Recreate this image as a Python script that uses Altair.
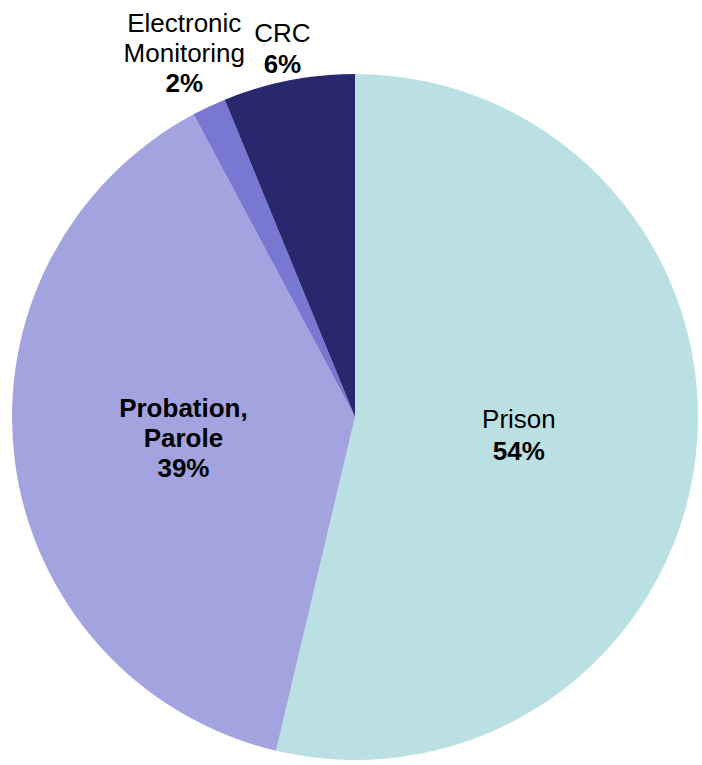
import altair as alt
import pandas as pd

categories = ["Prison", "Probation, Parole", "Electronic Monitoring", "CRC"]
values = [53.7, 38.5, 1.6, 6.2]
colors = ["#BBE0E3", "#A3A3DF", "#7878D2", "#28286F"]
label_lines = [["Prison"], ["Probation,", "Parole"], ["Electronic", "Monitoring"], ["CRC"]]
names_bold = [False, True, False, False]

df = pd.DataFrame({
    "category": categories,
    "value": values,
    "idx": list(range(len(categories))),
})

base = alt.Chart(df).transform_calculate(pct="datum.value / 100")

theta = alt.Theta("value:Q", stack=True)
order = alt.Order("idx:Q", sort="ascending")

arcs = base.mark_arc(radius=343).encode(
    theta=theta,
    order=order,
    color=alt.Color("category:N", scale=alt.Scale(domain=categories, range=colors), legend=None),
)

label_radius = {"Prison": 165, "Probation, Parole": 173, "Electronic Monitoring": 401, "CRC": 375}
line_h = {"Prison": 32, "Probation, Parole": 30, "Electronic Monitoring": 30, "CRC": 31}

layers = [arcs]
for cat, lines, bold in zip(categories, label_lines, names_bold):
    n = len(lines) + 1
    lh = line_h[cat]
    test = f"datum.category == '{cat}'"
    for i, line in enumerate(lines):
        dy = (i - (n - 1) / 2) * lh
        layers.append(
            base.mark_text(radius=label_radius[cat], dy=dy, fontSize=26, font="Liberation Sans",
                           fontWeight="bold" if bold else "normal", color="black",
                           align="center", baseline="middle").encode(
                theta=theta,
                order=order,
                text=alt.condition(test, alt.value(line), alt.value("")),
            )
        )
    dy = (n - 1 - (n - 1) / 2) * lh
    layers.append(
        base.mark_text(radius=label_radius[cat], dy=dy, fontSize=26, font="Liberation Sans",
                       fontWeight="bold", color="black", align="center", baseline="middle").encode(
            theta=theta,
            order=order,
            text=alt.condition(test, alt.Text("pct:Q", format=".0%"), alt.value("")),
        )
    )

chart = alt.layer(*layers).properties(
    width=694,
    height=696,
    padding={"left": 8, "top": 69, "right": 0, "bottom": 0},
    autosize=alt.AutoSizeParams(type="none"),
).configure_view(stroke=None).configure(background="white")

chart.save("out.html", embed_options={"renderer": "svg", "actions": False})
